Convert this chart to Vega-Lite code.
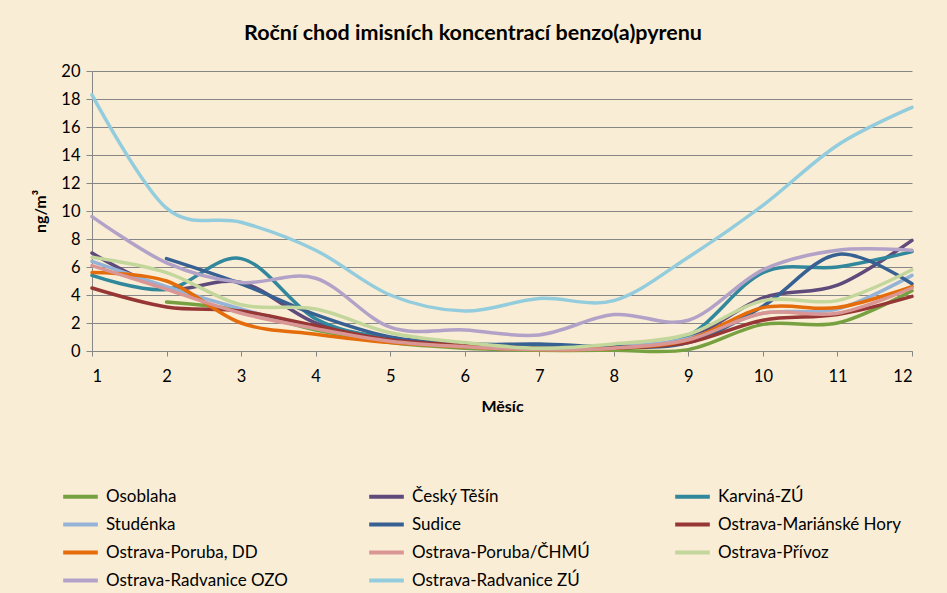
{
  "$schema": "https://vega.github.io/schema/vega-lite/v6.json",
  "width": 820,
  "height": 280,
  "autosize": {"type": "none"},
  "padding": {"left": 92, "top": 71, "right": 35, "bottom": 242},
  "background": "#FAEDD5",
  "title": {
    "text": "Roční chod imisních koncentrací benzo(a)pyrenu",
    "font": "Lato",
    "fontSize": 21.5,
    "fontWeight": "bold",
    "color": "#000000",
    "anchor": "middle",
    "dx": -29,
    "offset": 19
  },
  "config": {
    "view": {"stroke": null},
    "font": "Lato"
  },
  "data": {
    "values": [
      {"station": "Osoblaha", "month": 2, "value": 3.5},
      {"station": "Osoblaha", "month": 3, "value": 2.9},
      {"station": "Osoblaha", "month": 4, "value": 1.5},
      {"station": "Osoblaha", "month": 5, "value": 0.6},
      {"station": "Osoblaha", "month": 6, "value": 0.2},
      {"station": "Osoblaha", "month": 7, "value": 0.05},
      {"station": "Osoblaha", "month": 8, "value": 0.05},
      {"station": "Osoblaha", "month": 9, "value": 0.1},
      {"station": "Osoblaha", "month": 10, "value": 1.9},
      {"station": "Osoblaha", "month": 11, "value": 2.0},
      {"station": "Osoblaha", "month": 12, "value": 4.3},

      {"station": "Český Těšín", "month": 1, "value": 7.0},
      {"station": "Český Těšín", "month": 2, "value": 4.5},
      {"station": "Český Těšín", "month": 3, "value": 4.9},
      {"station": "Český Těšín", "month": 4, "value": 2.0},
      {"station": "Český Těšín", "month": 5, "value": 0.9},
      {"station": "Český Těšín", "month": 6, "value": 0.4},
      {"station": "Český Těšín", "month": 7, "value": 0.2},
      {"station": "Český Těšín", "month": 8, "value": 0.3},
      {"station": "Český Těšín", "month": 9, "value": 0.9},
      {"station": "Český Těšín", "month": 10, "value": 3.8},
      {"station": "Český Těšín", "month": 11, "value": 4.7},
      {"station": "Český Těšín", "month": 12, "value": 7.9},

      {"station": "Karviná-ZÚ", "month": 1, "value": 5.4},
      {"station": "Karviná-ZÚ", "month": 2, "value": 4.4},
      {"station": "Karviná-ZÚ", "month": 3, "value": 6.6},
      {"station": "Karviná-ZÚ", "month": 4, "value": 2.3},
      {"station": "Karviná-ZÚ", "month": 5, "value": 0.9},
      {"station": "Karviná-ZÚ", "month": 6, "value": 0.5},
      {"station": "Karviná-ZÚ", "month": 7, "value": 0.4},
      {"station": "Karviná-ZÚ", "month": 8, "value": 0.3},
      {"station": "Karviná-ZÚ", "month": 9, "value": 1.1},
      {"station": "Karviná-ZÚ", "month": 10, "value": 5.6},
      {"station": "Karviná-ZÚ", "month": 11, "value": 6.0},
      {"station": "Karviná-ZÚ", "month": 12, "value": 7.1},

      {"station": "Studénka", "month": 1, "value": 6.4},
      {"station": "Studénka", "month": 2, "value": 4.6},
      {"station": "Studénka", "month": 3, "value": 3.0},
      {"station": "Studénka", "month": 4, "value": 1.6},
      {"station": "Studénka", "month": 5, "value": 0.8},
      {"station": "Studénka", "month": 6, "value": 0.4},
      {"station": "Studénka", "month": 7, "value": 0.2},
      {"station": "Studénka", "month": 8, "value": 0.3},
      {"station": "Studénka", "month": 9, "value": 0.9},
      {"station": "Studénka", "month": 10, "value": 2.7},
      {"station": "Studénka", "month": 11, "value": 3.0},
      {"station": "Studénka", "month": 12, "value": 5.4},

      {"station": "Sudice", "month": 2, "value": 6.6},
      {"station": "Sudice", "month": 3, "value": 4.8},
      {"station": "Sudice", "month": 4, "value": 2.6},
      {"station": "Sudice", "month": 5, "value": 1.0},
      {"station": "Sudice", "month": 6, "value": 0.5},
      {"station": "Sudice", "month": 7, "value": 0.5},
      {"station": "Sudice", "month": 8, "value": 0.3},
      {"station": "Sudice", "month": 9, "value": 0.6},
      {"station": "Sudice", "month": 10, "value": 3.2},
      {"station": "Sudice", "month": 11, "value": 6.9},
      {"station": "Sudice", "month": 12, "value": 4.8},

      {"station": "Ostrava-Mariánské Hory", "month": 1, "value": 4.5},
      {"station": "Ostrava-Mariánské Hory", "month": 2, "value": 3.15},
      {"station": "Ostrava-Mariánské Hory", "month": 3, "value": 2.85},
      {"station": "Ostrava-Mariánské Hory", "month": 4, "value": 1.8},
      {"station": "Ostrava-Mariánské Hory", "month": 5, "value": 0.8},
      {"station": "Ostrava-Mariánské Hory", "month": 6, "value": 0.4},
      {"station": "Ostrava-Mariánské Hory", "month": 7, "value": 0.2},
      {"station": "Ostrava-Mariánské Hory", "month": 8, "value": 0.2},
      {"station": "Ostrava-Mariánské Hory", "month": 9, "value": 0.6},
      {"station": "Ostrava-Mariánské Hory", "month": 10, "value": 2.2},
      {"station": "Ostrava-Mariánské Hory", "month": 11, "value": 2.6},
      {"station": "Ostrava-Mariánské Hory", "month": 12, "value": 3.9},

      {"station": "Ostrava-Poruba, DD", "month": 1, "value": 5.6},
      {"station": "Ostrava-Poruba, DD", "month": 2, "value": 5.0},
      {"station": "Ostrava-Poruba, DD", "month": 3, "value": 2.0},
      {"station": "Ostrava-Poruba, DD", "month": 4, "value": 1.2},
      {"station": "Ostrava-Poruba, DD", "month": 5, "value": 0.6},
      {"station": "Ostrava-Poruba, DD", "month": 6, "value": 0.3},
      {"station": "Ostrava-Poruba, DD", "month": 7, "value": 0.1},
      {"station": "Ostrava-Poruba, DD", "month": 8, "value": 0.2},
      {"station": "Ostrava-Poruba, DD", "month": 9, "value": 0.8},
      {"station": "Ostrava-Poruba, DD", "month": 10, "value": 3.1},
      {"station": "Ostrava-Poruba, DD", "month": 11, "value": 3.1},
      {"station": "Ostrava-Poruba, DD", "month": 12, "value": 4.6},

      {"station": "Ostrava-Poruba/ČHMÚ", "month": 1, "value": 6.1},
      {"station": "Ostrava-Poruba/ČHMÚ", "month": 2, "value": 4.4},
      {"station": "Ostrava-Poruba/ČHMÚ", "month": 3, "value": 2.7},
      {"station": "Ostrava-Poruba/ČHMÚ", "month": 4, "value": 1.6},
      {"station": "Ostrava-Poruba/ČHMÚ", "month": 5, "value": 0.7},
      {"station": "Ostrava-Poruba/ČHMÚ", "month": 6, "value": 0.3},
      {"station": "Ostrava-Poruba/ČHMÚ", "month": 7, "value": 0.1},
      {"station": "Ostrava-Poruba/ČHMÚ", "month": 8, "value": 0.2},
      {"station": "Ostrava-Poruba/ČHMÚ", "month": 9, "value": 0.8},
      {"station": "Ostrava-Poruba/ČHMÚ", "month": 10, "value": 2.7},
      {"station": "Ostrava-Poruba/ČHMÚ", "month": 11, "value": 2.7},
      {"station": "Ostrava-Poruba/ČHMÚ", "month": 12, "value": 4.5},

      {"station": "Ostrava-Přívoz", "month": 1, "value": 6.7},
      {"station": "Ostrava-Přívoz", "month": 2, "value": 5.6},
      {"station": "Ostrava-Přívoz", "month": 3, "value": 3.3},
      {"station": "Ostrava-Přívoz", "month": 4, "value": 3.0},
      {"station": "Ostrava-Přívoz", "month": 5, "value": 1.3},
      {"station": "Ostrava-Přívoz", "month": 6, "value": 0.6},
      {"station": "Ostrava-Přívoz", "month": 7, "value": 0.2},
      {"station": "Ostrava-Přívoz", "month": 8, "value": 0.5},
      {"station": "Ostrava-Přívoz", "month": 9, "value": 1.2},
      {"station": "Ostrava-Přívoz", "month": 10, "value": 3.6},
      {"station": "Ostrava-Přívoz", "month": 11, "value": 3.6},
      {"station": "Ostrava-Přívoz", "month": 12, "value": 5.8},

      {"station": "Ostrava-Radvanice OZO", "month": 1, "value": 9.6},
      {"station": "Ostrava-Radvanice OZO", "month": 2, "value": 6.3},
      {"station": "Ostrava-Radvanice OZO", "month": 3, "value": 4.9},
      {"station": "Ostrava-Radvanice OZO", "month": 4, "value": 5.2},
      {"station": "Ostrava-Radvanice OZO", "month": 5, "value": 1.7},
      {"station": "Ostrava-Radvanice OZO", "month": 6, "value": 1.5},
      {"station": "Ostrava-Radvanice OZO", "month": 7, "value": 1.15},
      {"station": "Ostrava-Radvanice OZO", "month": 8, "value": 2.6},
      {"station": "Ostrava-Radvanice OZO", "month": 9, "value": 2.2},
      {"station": "Ostrava-Radvanice OZO", "month": 10, "value": 5.8},
      {"station": "Ostrava-Radvanice OZO", "month": 11, "value": 7.2},
      {"station": "Ostrava-Radvanice OZO", "month": 12, "value": 7.2},

      {"station": "Ostrava-Radvanice ZÚ", "month": 1, "value": 18.3},
      {"station": "Ostrava-Radvanice ZÚ", "month": 2, "value": 10.2},
      {"station": "Ostrava-Radvanice ZÚ", "month": 3, "value": 9.2},
      {"station": "Ostrava-Radvanice ZÚ", "month": 4, "value": 7.2},
      {"station": "Ostrava-Radvanice ZÚ", "month": 5, "value": 4.0},
      {"station": "Ostrava-Radvanice ZÚ", "month": 6, "value": 2.85},
      {"station": "Ostrava-Radvanice ZÚ", "month": 7, "value": 3.75},
      {"station": "Ostrava-Radvanice ZÚ", "month": 8, "value": 3.6},
      {"station": "Ostrava-Radvanice ZÚ", "month": 9, "value": 6.7},
      {"station": "Ostrava-Radvanice ZÚ", "month": 10, "value": 10.4},
      {"station": "Ostrava-Radvanice ZÚ", "month": 11, "value": 14.7},
      {"station": "Ostrava-Radvanice ZÚ", "month": 12, "value": 17.4}
    ]
  },
  "mark": {"type": "line", "interpolate": "cardinal", "strokeWidth": 3.5, "strokeCap": "round"},
  "encoding": {
    "x": {
      "field": "month",
      "type": "quantitative",
      "scale": {"domain": [1, 12], "nice": false, "zero": false},
      "axis": {
        "title": "Měsíc",
        "titleFont": "Lato",
        "titleFontSize": 16,
        "titleFontWeight": "bold",
        "titleColor": "#000000",
        "titlePadding": 14,
        "values": [1, 2, 3, 4, 5, 6, 7, 8, 9, 10, 11, 12],
        "format": "d",
        "labelFont": "Lato",
        "labelFontSize": 16.5,
        "labelColor": "#000000",
        "labelPadding": 12,
        "grid": false,
        "domainColor": "#868686",
        "tickColor": "#868686",
        "tickSize": 5
      }
    },
    "y": {
      "field": "value",
      "type": "quantitative",
      "scale": {"domain": [0, 20], "nice": false},
      "axis": {
        "title": "ng/m³",
        "titleFont": "Lato",
        "titleFontSize": 16,
        "titleFontWeight": "bold",
        "titleColor": "#000000",
        "titlePadding": 12,
        "values": [0, 2, 4, 6, 8, 10, 12, 14, 16, 18, 20],
        "labelFont": "Lato",
        "labelFontSize": 16.5,
        "labelColor": "#000000",
        "labelPadding": 6,
        "grid": true,
        "gridColor": "#868686",
        "gridWidth": 1,
        "domainColor": "#868686",
        "tickColor": "#868686",
        "tickSize": 6
      }
    },
    "color": {
      "field": "station",
      "type": "nominal",
      "sort": null,
      "scale": {
        "domain": ["Osoblaha", "Studénka", "Ostrava-Poruba, DD", "Ostrava-Radvanice OZO", "Český Těšín", "Sudice", "Ostrava-Poruba/ČHMÚ", "Ostrava-Radvanice ZÚ", "Karviná-ZÚ", "Ostrava-Mariánské Hory", "Ostrava-Přívoz"],
        "range": ["#77A140", "#95B3D7", "#E46C0A", "#B3A2C7", "#5F4A7C", "#376193", "#D99694", "#93CDDD", "#31879C", "#963735", "#C3D69B"]
      },
      "legend": {
        "title": null,
        "orient": "none",
        "legendX": -31,
        "legendY": 406,
        "columns": 3,
        "gridAlign": "all",
        "columnPadding": 72,
        "rowPadding": 0,
        "symbolType": "stroke",
        "symbolSize": 1200,
        "symbolStrokeWidth": 4,
        "symbolOffset": 0,
        "labelFont": "Lato",
        "labelFontSize": 17,
        "labelColor": "#000000",
        "labelOffset": 6,
        "labelLimit": 300
      }
    }
  }
}
